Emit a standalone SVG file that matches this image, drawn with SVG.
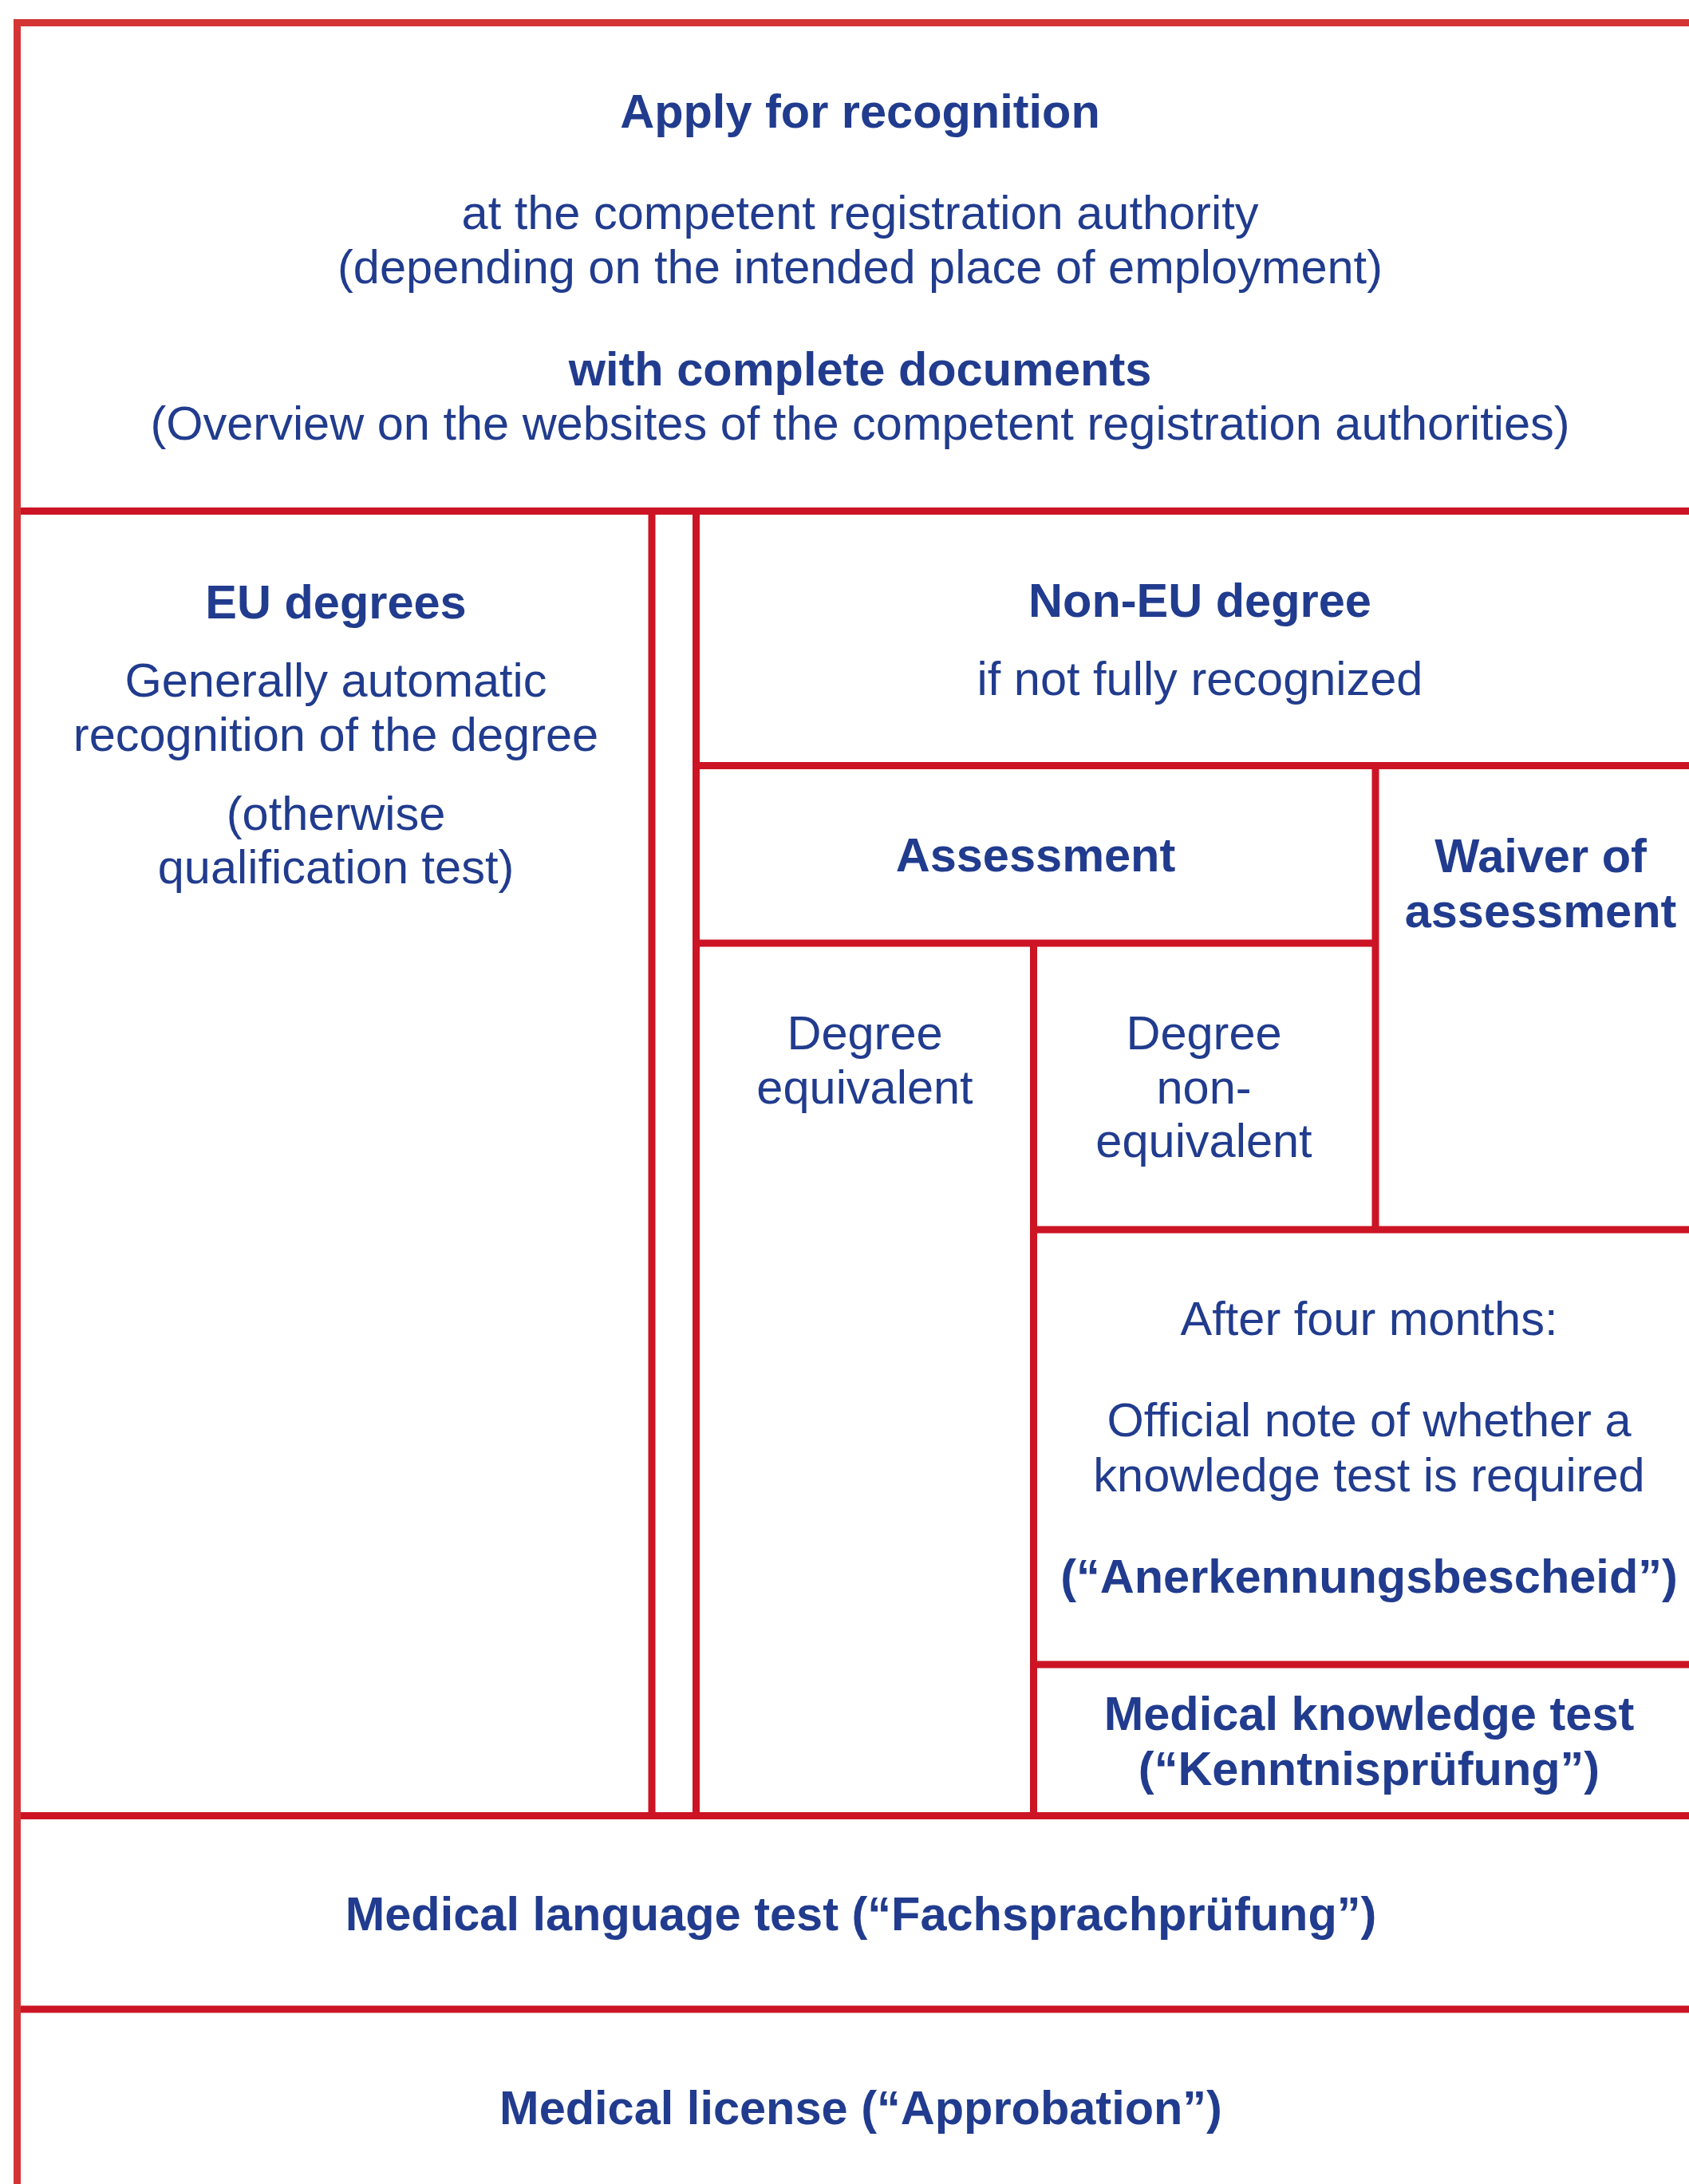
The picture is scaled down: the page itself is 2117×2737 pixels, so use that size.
<svg xmlns="http://www.w3.org/2000/svg" width="2117" height="2737" viewBox="0 0 2117 2737">
<style>
.t{font-family:"Liberation Sans",Arial,Helvetica,sans-serif;font-size:59.5px;fill:#213C8E;text-anchor:middle}
.b{font-weight:bold}
.o{stroke:#D33434;stroke-width:9;fill:none}
.l{stroke:#CC1424;stroke-width:9;fill:none}
</style>
<rect width="2117" height="2737" fill="#ffffff"/>
<g id="connectors">
<line class="o" x1="17" y1="28.5" x2="2117" y2="28.5"/>
<line class="o" x1="21.5" y1="24" x2="21.5" y2="2737"/>
<line class="l" x1="26" y1="640.5" x2="2117" y2="640.5"/>
<line class="l" x1="817" y1="645" x2="817" y2="2275"/>
<line class="l" x1="872.5" y1="645" x2="872.5" y2="2275"/>
<line class="l" x1="877" y1="959.5" x2="2117" y2="959.5"/>
<line class="l" x1="877" y1="1182" x2="1724" y2="1182"/>
<line class="l" x1="1724" y1="964" x2="1724" y2="1545"/>
<line class="l" x1="1295.5" y1="1186" x2="1295.5" y2="2275"/>
<line class="l" x1="1300" y1="1541" x2="2117" y2="1541"/>
<line class="l" x1="1300" y1="2086" x2="2117" y2="2086"/>
<line class="l" x1="26" y1="2275.5" x2="2117" y2="2275.5"/>
<line class="l" x1="26" y1="2518" x2="2117" y2="2518"/>
</g>
<g id="apply">
<text class="t b" x="1078" y="160">Apply for recognition</text>
<text class="t" x="1078" y="287">at the competent registration authority</text>
<text class="t" x="1078" y="355">(depending on the intended place of employment)</text>
<text class="t b" x="1078" y="483">with complete documents</text>
<text class="t" x="1078" y="551">(Overview on the websites of the competent registration authorities)</text>
</g>
<g id="eu-degrees">
<text class="t b" x="421" y="775">EU degrees</text>
<text class="t" x="421" y="873">Generally automatic</text>
<text class="t" x="421" y="941">recognition of the degree</text>
<text class="t" x="421" y="1040">(otherwise</text>
<text class="t" x="421" y="1107">qualification test)</text>
</g>
<g id="non-eu-degree">
<text class="t b" x="1504" y="773">Non-EU degree</text>
<text class="t" x="1504" y="871">if not fully recognized</text>
</g>
<g id="assessment">
<text class="t b" x="1298" y="1092">Assessment</text>
</g>
<g id="waiver">
<text class="t b" x="1931" y="1093">Waiver of</text>
<text class="t b" x="1931" y="1162">assessment</text>
</g>
<g id="degree-equivalent">
<text class="t" x="1084" y="1315">Degree</text>
<text class="t" x="1084" y="1383">equivalent</text>
</g>
<g id="degree-non-equivalent">
<text class="t" x="1509" y="1315">Degree</text>
<text class="t" x="1509" y="1383">non-</text>
<text class="t" x="1509" y="1450">equivalent</text>
</g>
<g id="after-four-months">
<text class="t" x="1716" y="1673">After four months:</text>
<text class="t" x="1716" y="1800">Official note of whether a</text>
<text class="t" x="1716" y="1869">knowledge test is required</text>
<text class="t b" x="1716" y="1996">(“Anerkennungsbescheid”)</text>
</g>
<g id="knowledge-test">
<text class="t b" x="1716" y="2168">Medical knowledge test</text>
<text class="t b" x="1716" y="2237">(“Kenntnisprüfung”)</text>
</g>
<g id="language-test">
<text class="t b" x="1079" y="2419">Medical language test (“Fachsprachprüfung”)</text>
</g>
<g id="license">
<text class="t b" x="1079" y="2662">Medical license (“Approbation”)</text>
</g>
</svg>
